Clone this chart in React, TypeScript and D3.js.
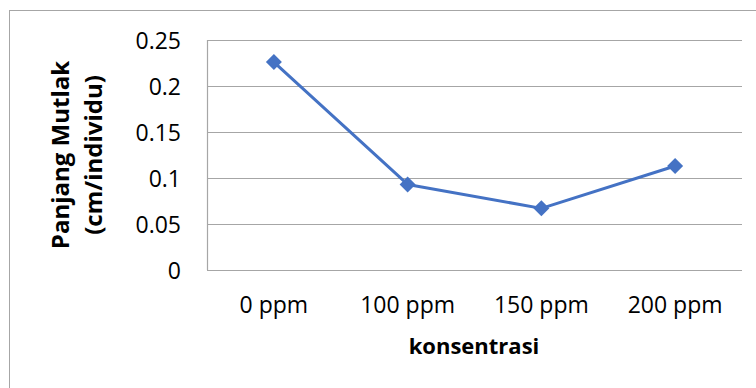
import React from "react";
import * as d3 from "d3";

// Concentration categories and measured absolute length
const categories = ["0 ppm", "100 ppm", "150 ppm", "200 ppm"];
const values = [0.226, 0.093, 0.067, 0.113];
const yTicks = [0, 0.05, 0.1, 0.15, 0.2, 0.25];
const yTitleLines = ["Panjang Mutlak", "(cm/individu)"];
const xTitle = "konsentrasi";

const W = 756;
const H = 388;
const plot = { left: 207, right: 742, top: 40, bottom: 270 };
const FONT = "'Open Sans', 'Noto Sans', sans-serif";
const BLUE = "#4472C4";

export default function App() {
  const x = d3
    .scaleBand<string>()
    .domain(categories)
    .range([plot.left, plot.right])
    .paddingInner(0)
    .paddingOuter(0);
  const y = d3.scaleLinear().domain([0, 0.25]).range([plot.bottom, plot.top]);

  const cx = (c: string) => (x(c) ?? 0) + x.bandwidth() / 2;
  const pts = categories.map((c, i) => [cx(c), y(values[i])] as [number, number]);
  const line = d3.line()(pts) ?? "";
  const m = 8;
  const diamond = (px: number, py: number) =>
    `M${px},${py - m}L${px + m},${py}L${px},${py + m}L${px - m},${py}Z`;

  const titleY = (plot.top + plot.bottom) / 2;
  const titleBaselines = [69, 102];

  return (
    <svg
      width={W}
      height={H}
      style={{ position: "absolute", left: 0, top: 0, background: "#fff" }}
    >
      {/* chart frame */}
      <rect x={9.5} y={10.5} width={W + 20} height={H + 20} fill="#fff" stroke="#a6a6a6" strokeWidth={1} />

      {/* gridlines */}
      {yTicks.map((t) => (
        <line
          key={t}
          x1={plot.left}
          x2={plot.right}
          y1={Math.round(y(t)) + 0.5}
          y2={Math.round(y(t)) + 0.5}
          stroke="#a6a6a6"
          strokeWidth={1.2}
        />
      ))}
      {/* value axis line */}
      <line
        x1={plot.left + 0.5}
        x2={plot.left + 0.5}
        y1={y(0.25)}
        y2={y(0)}
        stroke="#a6a6a6"
        strokeWidth={1.2}
      />

      {/* y tick labels */}
      {yTicks.map((t) => (
        <text
          key={t}
          x={181}
          y={y(t)}
          dy="0.38em"
          textAnchor="end"
          fontFamily={FONT}
          fontSize={23}
          fill="#000"
        >
          {String(t)}
        </text>
      ))}

      {/* x category labels */}
      {categories.map((c) => (
        <text
          key={c}
          x={cx(c)}
          y={313}
          textAnchor="middle"
          fontFamily={FONT}
          fontSize={23}
          fill="#000"
        >
          {c}
        </text>
      ))}

      {/* axis titles */}
      <text
        x={474}
        y={354}
        textAnchor="middle"
        fontFamily={FONT}
        fontSize={22}
        fontWeight="bold"
        fill="#000"
      >
        {xTitle}
      </text>
      {yTitleLines.map((s, i) => (
        <text
          key={s}
          transform={`translate(${titleBaselines[i]},${titleY}) rotate(-90)`}
          textAnchor="middle"
          fontFamily={FONT}
          fontSize={24}
          fontWeight="bold"
          fill="#000"
        >
          {s}
        </text>
      ))}

      {/* series */}
      <path d={line} fill="none" stroke={BLUE} strokeWidth={3} strokeLinejoin="round" />
      {pts.map(([px, py], i) => (
        <path key={i} d={diamond(px, py)} fill={BLUE} />
      ))}
    </svg>
  );
}
